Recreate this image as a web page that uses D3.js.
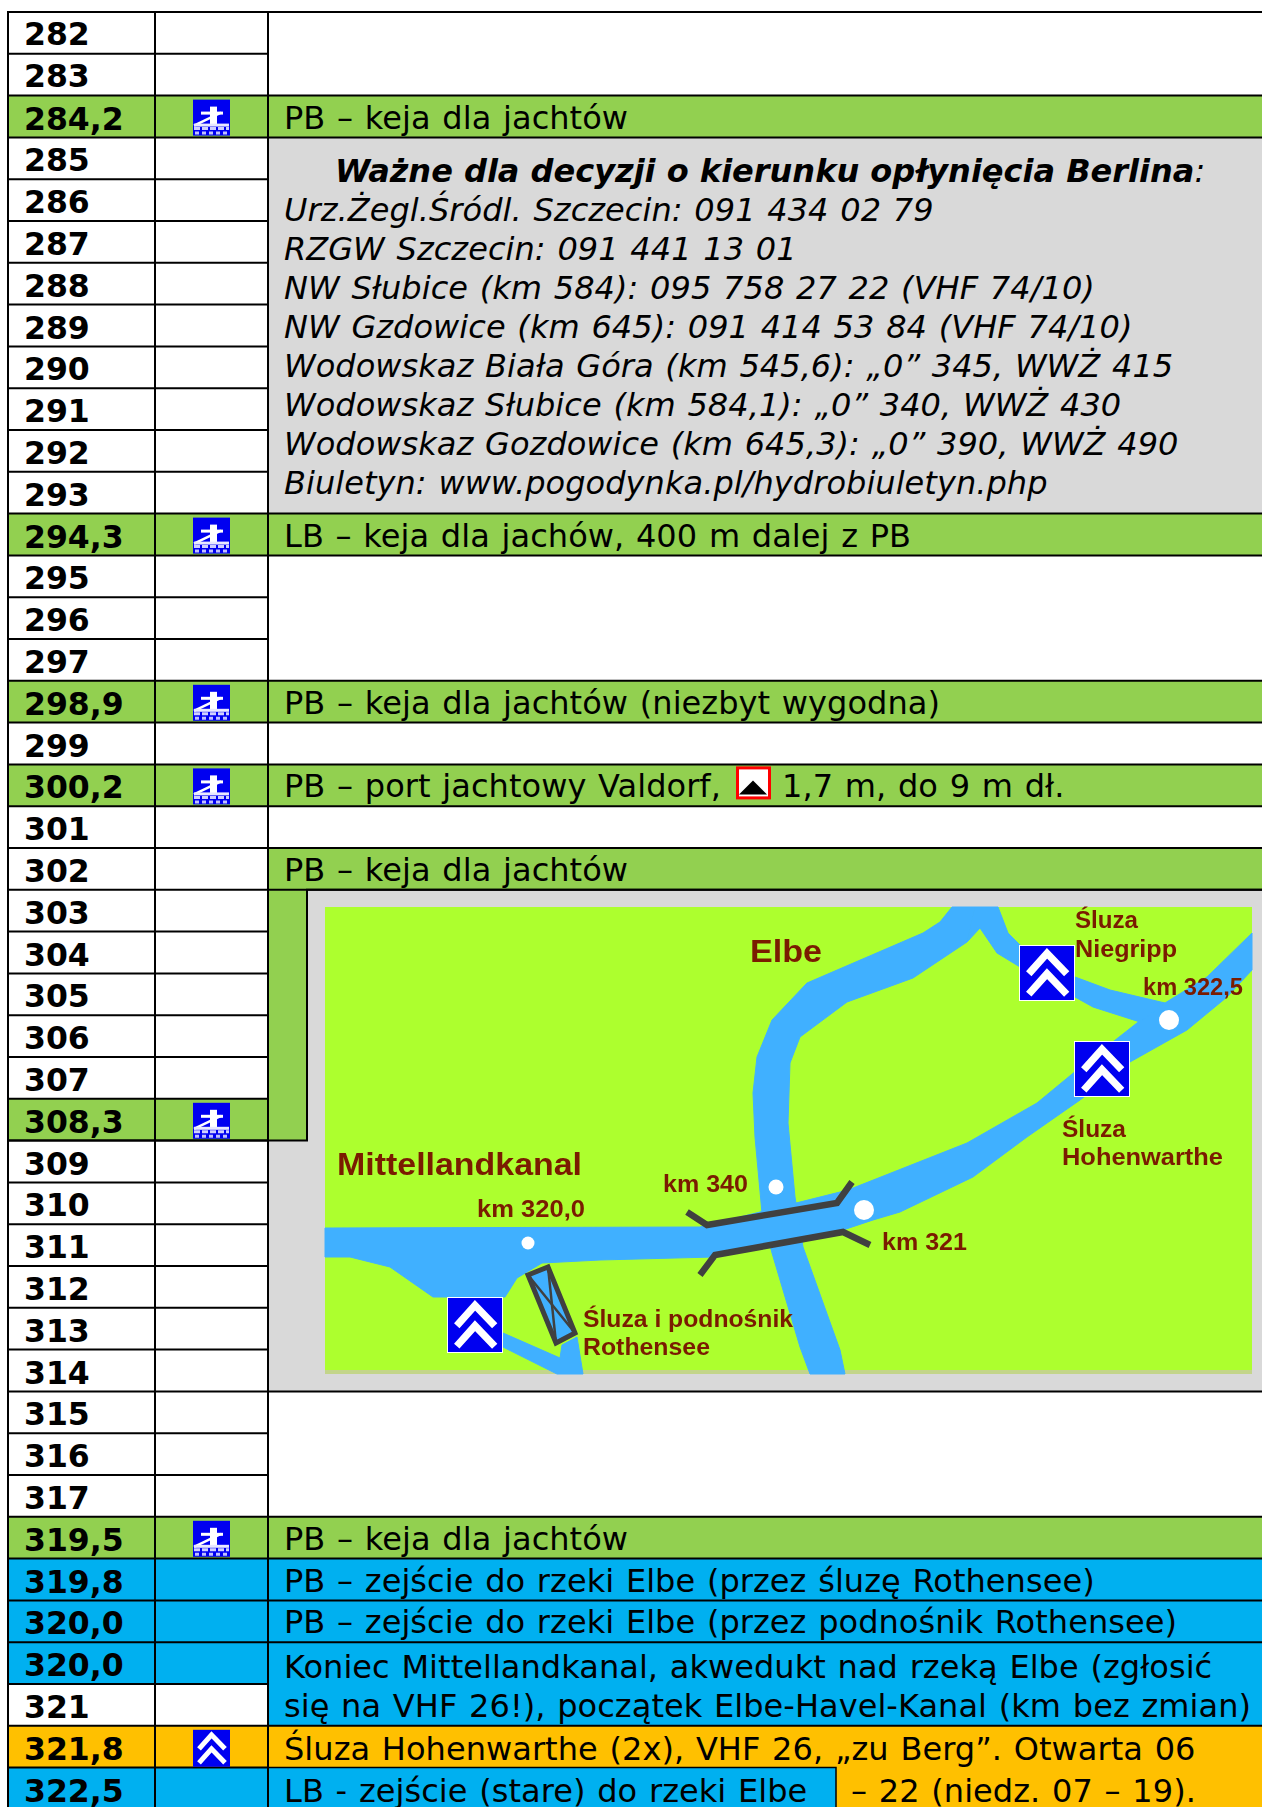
<!DOCTYPE html>
<html>
<head>
<meta charset="utf-8">
<style>
	html, body { margin: 0; padding: 0; background: #fff; overflow: hidden; }
	svg { display: block; }
	text { font-family: "DejaVu Sans", sans-serif; fill: #000; }
	.spaced { letter-spacing: 0.05px; word-spacing: 1.5px; }
	.map text { font-family: "Liberation Sans", Arial, sans-serif; font-weight: bold; fill: #7a1a04; }
</style>
<script src="https://cdn.jsdelivr.net/npm/d3@7"></script>
</head>
<body>
<svg id="chart" width="1262" height="1807"></svg>
<script>
// table content
const kmLabels = ["282","283","284,2","285","286","287","288","289","290","291","292","293","294,3",
	"295","296","297","298,9","299","300,2","301","302","303","304","305","306","307","308,3",
	"309","310","311","312","313","314","315","316","317","319,5","319,8","320,0","320,0","321","321,8","322,5"]
const greenRows = [2,12,16,18,26,36]
const blueRows = [37,38,39,42]
const orangeRows = [41]
const yachtRows = [2,12,16,18,26,36]
const lockRows = [41]

// merged cells of the description column: [first row, row after the last, colour]
const noteBlocks = [
	[0,2,"white"],[2,3,"green"],[3,12,"grey"],[12,13,"green"],[13,16,"white"],[16,17,"green"],
	[17,18,"white"],[18,19,"green"],[19,20,"white"],[20,21,"green"],[33,36,"white"],[36,37,"green"],
	[37,38,"blue"],[38,39,"blue"],[39,41,"blue"],[41,43,"orange"]
]
const noteRows = [
	[2,"PB – keja dla jachtów"],
	[12,"LB – keja dla jachów, 400 m dalej z PB"],
	[16,"PB – keja dla jachtów (niezbyt wygodna)"],
	[18,"PB – port jachtowy Valdorf,"],
	[20,"PB – keja dla jachtów"],
	[36,"PB – keja dla jachtów"],
	[37,"PB – zejście do rzeki Elbe (przez śluzę Rothensee)"],
	[38,"PB – zejście do rzeki Elbe (przez podnośnik Rothensee)"],
	[39,"Koniec Mittellandkanal, akwedukt nad rzeką Elbe (zgłosić"],
	[40,"się na VHF 26!), początek Elbe-Havel-Kanal (km bez zmian)"],
	[41,"Śluza Hohenwarthe (2x), VHF 26, „zu Berg”. Otwarta 06"],
	[42,"LB - zejście (stare) do rzeki Elbe"]
]
const infoTitle = "Ważne dla decyzji o kierunku opłynięcia Berlina"
const infoLines = [
	"Urz.Żegl.Śródl. Szczecin: 091 434 02 79",
	"RZGW Szczecin: 091 441 13 01",
	"NW Słubice (km 584): 095 758 27 22 (VHF 74/10)",
	"NW Gzdowice (km 645): 091 414 53 84 (VHF 74/10)",
	"Wodowskaz Biała Góra (km 545,6): „0” 345, WWŻ 415",
	"Wodowskaz Słubice (km 584,1): „0” 340, WWŻ 430",
	"Wodowskaz Gozdowice (km 645,3): „0” 390, WWŻ 490",
	"Biuletyn: www.pogodynka.pl/hydrobiuletyn.php"
]

// map, in its own image units (927 x 467)
const canal = [[0,321],[375,320],[523,283],[642,236],[712,196],[752,163],[812,116],[840,96],[882,70],[927,26],
	[927,63],[902,90],[862,123],[805,155],[755,193],[702,230],[648,270],[575,305],[548,313],[518,323],
	[388,350],[275,353],[217,356],[192,371],[180,390],[108,390],[65,360],[25,350],[0,350]]
const elbe = [[627,0],[650,0],[642,35],[588,71],[522,95],[475,130],[465,156],[463,216],[470,290],[478,340],
	[515,443],[520,467],[485,467],[475,440],[447,346],[437,306],[430,230],[428,186],[432,150],[447,113],
	[482,76],[598,26],[615,15]]
const niegripp = [[650,0],[673,0],[683,26],[695,38],[750,70],[785,83],[840,96],[815,115],[768,100],[750,90],
	[695,60],[672,46],[655,21],[642,35]]
const rothensee = [[178,426],[235,451],[237,438],[252,430],[258,467],[232,467],[178,440]]
const bridges = [[[362,305],[382,318],[512,296],[527,275]], [[375,368],[390,348],[518,325],[545,338]]]
const liftBox = [[203,368],[223,360],[250,426],[231,436]]
const liftCross = [[[203,368],[250,426]], [[223,360],[231,436]]]
const kmDots = [[203,336,6.5],[451,280,7.5],[539,303,10],[844,113,10]]
const lockSigns = [[123,391],[695,39],[750,135]]
const mapLabels = [
	["Mittellandkanal",12,268,245,31],["km 320,0",152,310,108,24],["km 340",338,285,85,24],
	["Elbe",425,55,72,31],["Śluza",750,21,63,24],["Niegripp",750,50,102,24],["km 322,5",818,88,100,24],
	["Śluza",737,230,64,24],["Hohenwarthe",737,258,161,24],["km 321",557,343,85,24],
	["Śluza i podnośnik",258,420,210,24],["Rothensee",258,448,127,24]
]

const colors = {white:"#fff", green:"#92d050", blue:"#00b0f0", orange:"#ffc000", grey:"#d9d9d9"}
const fontSize = 32
const right = 1262

let svg = d3.select("#chart")
let rowY = d3.scaleLinear().domain([0,43]).range([12, 12+43*41.8])
let colX = d3.scaleOrdinal().domain(["km","icon","note","infoInset"]).range([8,155,268,307])
let mapX = d3.scaleLinear().domain([0,927]).range([325,1252])
let mapY = d3.scaleLinear().domain([0,467]).range([907,1374])
let mapLine = d3.line().x(d => mapX(d[0])).y(d => mapY(d[1]))

function rowColor(i){
	if (greenRows.includes(i)) return colors.green
	if (blueRows.includes(i)) return colors.blue
	if (orangeRows.includes(i)) return colors.orange
	return colors.white
}

// the two lines of the merged cell sit off the row rhythm
function noteBaseline(row){
	if (row == 39) return rowY(row)+36
	if (row > 40) return rowY(row)+34
	return rowY(row)+33
}

// km and icon columns
let left = svg.append("g")
left.selectAll("rect").data(kmLabels).join("rect")
	.attr("x", colX("km"))
	.attr("y", (d,i) => rowY(i))
	.attr("width", colX("note")-colX("km"))
	.attr("height", rowY(1)-rowY(0))
	.attr("fill", (d,i) => rowColor(i))

// description column, the map block is L shaped so it goes on its own
let notes = svg.append("g")
notes.selectAll("rect").data(noteBlocks).join("rect")
	.attr("x", colX("note"))
	.attr("y", d => rowY(d[0]))
	.attr("width", right-colX("note"))
	.attr("height", d => rowY(d[1])-rowY(d[0]))
	.attr("fill", d => colors[d[2]])
notes.append("rect")
	.attr("x", colX("note")).attr("y", rowY(21))
	.attr("width", right-colX("note")).attr("height", rowY(33)-rowY(21))
	.attr("fill", colors.grey)
notes.append("rect")
	.attr("x", colX("note")).attr("y", rowY(21))
	.attr("width", colX("infoInset")-colX("note")).attr("height", rowY(27)-rowY(21))
	.attr("fill", colors.green)
// the blue box that sits inside the lock note
notes.append("rect")
	.attr("x", colX("note")).attr("y", rowY(42))
	.attr("width", 568).attr("height", rowY(43)-rowY(42))
	.attr("fill", colors.blue)

// grid
let grid = svg.append("g").attr("stroke", "#000").attr("stroke-width", 2).attr("fill", "none")
grid.selectAll("line.row").data(d3.range(0,43)).join("line")
	.attr("class", "row")
	.attr("x1", colX("km")-1).attr("x2", colX("note"))
	.attr("y1", d => rowY(d)).attr("y2", d => rowY(d))
const noteEdges = Array.from(new Set(noteBlocks.flatMap(d => [d[0],d[1]]))).filter(d => d < 43)
grid.selectAll("line.edge").data(noteEdges).join("line")
	.attr("class", "edge")
	.attr("x1", colX("note")).attr("x2", right)
	.attr("y1", d => rowY(d)).attr("y2", d => rowY(d))
grid.selectAll("line.col").data(["km","icon","note"]).join("line")
	.attr("class", "col")
	.attr("x1", d => colX(d)).attr("x2", d => colX(d))
	.attr("y1", rowY(0)-1).attr("y2", 1807)
grid.append("path")
	.attr("d", d3.line()([[right,rowY(21)],[colX("infoInset"),rowY(21)],[colX("infoInset"),rowY(27)],[colX("km"),rowY(27)]]))
grid.append("path")
	.attr("d", d3.line()([[colX("note"),rowY(42)],[836,rowY(42)],[836,1807]]))
	.attr("stroke-width", 1.5)

// km labels
svg.append("g").selectAll("text").data(kmLabels).join("text")
	.attr("x", colX("km")+16)
	.attr("y", (d,i) => rowY(i)+(i < 2 ? 33 : 34))
	.attr("font-size", 31.5)
	.attr("font-weight", "bold")
	.text(d => d)

// notes
svg.append("g").selectAll("text").data(noteRows).join("text")
	.attr("class", "spaced")
	.attr("x", colX("note")+16)
	.attr("y", d => noteBaseline(d[0]))
	.attr("font-size", fontSize)
	.text(d => d[1])
svg.append("text")
	.attr("class", "spaced")
	.attr("x", 782).attr("y", noteBaseline(18))
	.attr("font-size", fontSize)
	.text("1,7 m, do 9 m dł.")
svg.append("text")
	.attr("class", "spaced")
	.attr("x", 851).attr("y", noteBaseline(42))
	.attr("font-size", fontSize)
	.text("– 22 (niedz. 07 – 19).")

// info block
let info = svg.append("text")
	.attr("x", 335).attr("y", 182)
	.attr("font-size", fontSize)
	.attr("font-style", "italic")
info.append("tspan").attr("font-weight", "bold").text(infoTitle)
info.append("tspan").text(":")
svg.append("g").selectAll("text").data(infoLines).join("text")
	.attr("class", "spaced")
	.attr("x", colX("note")+16)
	.attr("y", (d,i) => 220.5+i*39)
	.attr("font-size", fontSize)
	.attr("font-style", "italic")
	.text(d => d)

// depth mark next to Valdorf
let depth = svg.append("g").attr("transform", "translate(736,"+(rowY(18)+2)+")")
depth.append("rect").attr("x",1.5).attr("y",1.5).attr("width",32).attr("height",30)
	.attr("fill","#fff").attr("stroke","#f00").attr("stroke-width",3)
depth.append("path").attr("d", d3.line()([[3,28],[17,14],[31,28]])).attr("fill","#000")

function chevrons(g, size){
	let s = d3.scaleLinear().domain([0,37]).range([0,size])
	g.append("rect").attr("width", size).attr("height", size).attr("fill", "#0000f0")
	;[[19,5],[33,19]].forEach(c => {
		g.append("path")
			.attr("d", d3.line().x(d => s(d[0])).y(d => s(d[1]))([[6,c[0]],[18.5,c[1]],[32,c[0]]]))
			.attr("fill", "none").attr("stroke", "#fff").attr("stroke-width", s(5))
	})
}

// yacht sign: blue square with mast, sail line and waves
function yacht(g){
	g.append("rect").attr("width", 37).attr("height", 36).attr("fill", "#0000f0")
	g.append("rect").attr("x",17).attr("y",7).attr("width",7).attr("height",19).attr("fill","#fff")
	g.append("rect").attr("x",8).attr("y",12).attr("width",22).attr("height",3).attr("fill","#fff")
	g.append("path").attr("d", d3.line()([[1,26],[28,13]])).attr("stroke","#fff").attr("stroke-width",2.5)
	g.append("rect").attr("x",1).attr("y",24).attr("width",35).attr("height",3).attr("fill","#e8e8ff")
	g.append("path").attr("d", d3.line()([[1,29],[36,29]])).attr("stroke","#d0d0ff").attr("stroke-width",3).attr("stroke-dasharray","6 2")
	g.append("path").attr("d", d3.line()([[2,33.5],[35,33.5]])).attr("stroke","#c0c0ff").attr("stroke-width",3).attr("stroke-dasharray","4 3")
}
svg.append("filter").attr("id", "soft").append("feGaussianBlur").attr("stdDeviation", 0.6)
yachtRows.forEach(r => yacht(svg.append("g").attr("filter", "url(#soft)").attr("transform", "translate(193,"+(rowY(r)+4)+")")))
lockRows.forEach(r => chevrons(svg.append("g").attr("filter", "url(#soft)").attr("transform", "translate(193,"+(rowY(r)+4)+")"), 37))

// map
let map = svg.append("g").attr("class", "map").attr("filter", "url(#soft)")
map.append("rect")
	.attr("x", mapX(0)).attr("y", mapY(0))
	.attr("width", mapX(927)-mapX(0)).attr("height", mapY(467)-mapY(0))
	.attr("fill", "#adff2f")
map.append("rect")
	.attr("x", mapX(0)).attr("y", mapY(463))
	.attr("width", mapX(927)-mapX(0)).attr("height", mapY(467)-mapY(463))
	.attr("fill", "#c3d58a")
map.selectAll("path.river").data([canal,elbe,niegripp,rothensee]).join("path")
	.attr("class", "river")
	.attr("d", d => mapLine(d)+"Z")
	.attr("fill", "#40b0ff")
	.attr("stroke", "#40b0ff").attr("stroke-width", 1)
map.selectAll("path.bridge").data(bridges).join("path")
	.attr("class", "bridge")
	.attr("d", d => mapLine(d))
	.attr("fill", "none").attr("stroke", "#404040").attr("stroke-width", 6.5)
map.append("path")
	.attr("d", mapLine(liftBox)+"Z")
	.attr("fill", "#40b0ff").attr("stroke", "#404040").attr("stroke-width", 5)
map.selectAll("path.lift").data(liftCross).join("path")
	.attr("class", "lift")
	.attr("d", d => mapLine(d))
	.attr("fill", "none").attr("stroke", "#404040").attr("stroke-width", 2.5)
map.selectAll("circle").data(kmDots).join("circle")
	.attr("cx", d => mapX(d[0])).attr("cy", d => mapY(d[1])).attr("r", d => d[2])
	.attr("fill", "#fff")
lockSigns.forEach(d => {
	let g = map.append("g").attr("transform", "translate("+mapX(d[0])+","+mapY(d[1])+")")
	g.append("rect").attr("x",-1).attr("y",-1).attr("width",56).attr("height",56).attr("fill","#fff")
	chevrons(g, 54)
})
map.selectAll("text").data(mapLabels).join("text")
	.attr("x", d => mapX(d[1]))
	.attr("y", d => mapY(d[2]))
	.attr("textLength", d => d[3])
	.attr("lengthAdjust", "spacingAndGlyphs")
	.attr("font-size", d => d[4])
	.text(d => d[0])
</script>
</body>
</html>
